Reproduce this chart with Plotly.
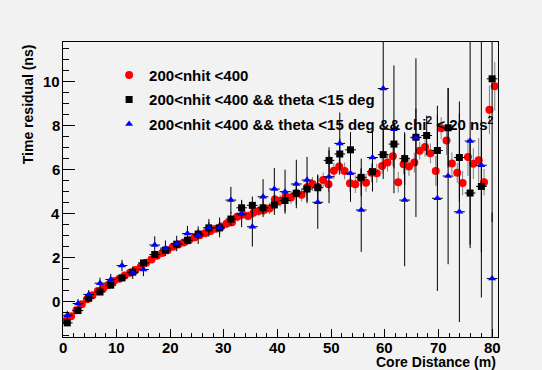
import plotly.graph_objects as go

# ---------------- data ----------------
red_x = [0.5, 1.5, 2.5, 3.5, 4.5, 5.5, 6.5, 7.5, 8.5, 9.5,
         10.5, 11.5, 12.5, 13.5, 14.5, 15.5, 16.5, 17.5, 18.5, 19.5,
         20.5, 21.5, 22.5, 23.5, 24.5, 25.5, 26.5, 27.5, 28.5, 29.5,
         30.5, 31.5, 32.5, 33.5, 34.5, 35.5, 36.5, 37.5, 38.5, 39.5,
         40.5, 41.5, 42.5, 43.5, 44.5, 45.5, 46.5, 47.5, 48.5, 49.5,
         50.5, 51.5, 52.5, 53.5, 54.5, 55.5, 56.5, 57.5, 58.5, 59.5,
         60.5, 61.5, 62.5, 63.5, 64.5, 65.5, 66.5, 67.5, 68.5, 69.5,
         70.5, 71.5, 72.5, 73.5, 74.5, 75.5, 76.5, 77.5, 78.5, 79.5,
         80.5]
red_y = [-0.85, -0.65, -0.38, -0.10, 0.12, 0.30, 0.50, 0.62, 0.78, 0.95,
         1.05, 1.20, 1.32, 1.45, 1.60, 1.78, 1.93, 2.10, 2.22, 2.35,
         2.50, 2.60, 2.70, 2.80, 2.92, 3.02, 3.12, 3.22, 3.32, 3.42,
         3.55, 3.62, 3.86, 3.97, 3.90, 4.05, 4.12, 4.17, 4.24, 4.65,
         4.59, 4.77, 4.74, 4.93, 4.86, 5.20, 5.35, 5.22, 5.53, 5.34,
         5.95, 6.14, 5.94, 5.38, 5.34, 5.62, 5.41, 5.86, 5.84, 6.17,
         6.32, 6.61, 5.43, 6.24, 6.14, 6.32, 6.86, 7.03, 6.74, 5.94,
         7.88, 7.32, 6.28, 5.86, 5.39, 6.57, 6.27, 6.43, 5.43, 8.72,
         9.78]
red_err = [0.08, 0.08, 0.08, 0.08, 0.08, 0.08, 0.09, 0.09, 0.09, 0.09,
           0.10, 0.10, 0.10, 0.10, 0.11, 0.11, 0.11, 0.12, 0.12, 0.12,
           0.13, 0.13, 0.14, 0.14, 0.15, 0.15, 0.16, 0.16, 0.17, 0.17,
           0.18, 0.19, 0.20, 0.20, 0.21, 0.22, 0.23, 0.24, 0.25, 0.26,
           0.27, 0.28, 0.29, 0.30, 0.30, 0.31, 0.32, 0.33, 0.34, 0.35,
           0.36, 0.37, 0.38, 0.39, 0.40, 0.40, 0.41, 0.42, 0.43, 0.35,
           0.40, 0.45, 0.47, 0.45, 0.42, 0.45, 0.40, 0.45, 0.45, 0.68,
           0.50, 0.65, 0.50, 0.45, 0.55, 0.85, 0.70, 1.00, 0.60, 1.10,
           1.10]
red_xerr = [0.5] * len(red_x)

sq_x = [0.8, 2.8, 4.8, 6.9, 8.9, 11.0, 13.0, 15.0, 17.1, 19.1,
        21.2, 23.2, 25.2, 27.2, 29.2, 31.3, 33.3, 35.3, 37.3, 39.4,
        41.4, 43.5, 45.5, 47.5, 49.6, 51.6, 53.6, 55.6, 57.7, 59.7,
        61.7, 63.7, 65.8, 67.8, 69.8, 71.8, 73.9, 75.9, 78.0, 80.0]
sq_y = [-0.95, -0.39, 0.17, 0.45, 0.76, 1.09, 1.35, 1.77, 2.15, 2.35,
        2.62, 2.80, 3.08, 3.36, 3.36, 3.76, 4.27, 4.38, 4.27, 4.40,
        4.60, 4.93, 5.12, 5.18, 6.42, 6.71, 6.90, 5.65, 5.91, 6.68,
        7.16, 6.50, 7.47, 7.55, 6.87, 7.90, 6.55, 4.94, 5.24, 10.12]
sq_err = [0.08, 0.08, 0.10, 0.10, 0.10, 0.12, 0.12, 0.14, 0.15, 0.17,
          0.18, 0.20, 0.22, 0.25, 0.28, 0.32, 0.36, 0.40, 0.42, 0.45,
          0.50, 0.52, 0.55, 0.60, 0.60, 0.70, 0.80, 0.85, 0.90, 1.10,
          1.10, 1.20, 1.30, 0.90, 1.60, 1.80, 2.00, 2.50, 3.00, 6.50]
sq_xerr = [1.0] * len(sq_x)

tri_x = [0.8, 2.8, 4.8, 6.9, 8.9, 11.0, 13.0, 15.0, 17.1, 19.1,
         21.2, 23.2, 25.2, 27.2, 29.2, 31.3, 33.3, 35.3, 37.3, 39.4,
         41.4, 43.5, 45.5, 47.5, 49.6, 51.6, 53.6, 55.6, 57.7, 59.7,
         61.7, 63.7, 65.8, 69.8, 71.8, 73.9, 75.9, 78.0, 80.0]
tri_y = [-0.60, -0.07, 0.34, 0.85, 1.02, 1.65, 1.32, 1.47, 2.58, 2.44,
         2.65, 3.10, 3.03, 3.36, 3.38, 4.62, 3.99, 3.41, 4.77, 5.12,
         5.00, 5.35, 5.53, 4.52, 5.68, 7.19, 5.84, 4.17, 6.55, 9.68,
         7.83, 4.62, 7.45, 4.70, 5.71, 4.09, 7.30, 6.20, 1.06]
tri_err = [0.20, 0.20, 0.20, 0.25, 0.25, 0.26, 0.28, 0.30, 0.40, 0.35,
           0.35, 0.35, 0.40, 0.40, 0.45, 0.60, 0.60, 0.90, 0.80, 0.95,
           1.00, 1.10, 1.05, 1.20, 1.20, 1.40, 1.30, 1.90, 1.20, 3.00,
           2.90, 3.00, 3.60, 4.20, 4.00, 5.00, 4.70, 6.00, 3.00]
tri_xerr = [1.0] * len(tri_x)

names = ["200&lt;nhit &lt;400",
         "200&lt;nhit &lt;400 && theta &lt;15 deg",
         "200&lt;nhit &lt;400 && theta &lt;15 deg && chi<sup>2</sup> &lt; 20 ns<sup>2</sup>"]

x_ticks = [0, 10, 20, 30, 40, 50, 60, 70, 80]
y_ticks = [0, 2, 4, 6, 8, 10]

FONT = "Liberation Sans, Arial, Helvetica, sans-serif"
BG = "#f2f2f2"

fig = go.Figure()

fig.add_trace(go.Scatter(
    x=red_x, y=red_y, mode="markers", name=names[0], legendgroup="a",
    marker=dict(symbol="circle", size=8, color="#ff0000", line=dict(width=0)),
    error_y=dict(type="data", array=red_err, color="#808080", thickness=1, width=0),
    error_x=dict(type="data", array=red_xerr, color="#808080", thickness=1, width=0),
))
fig.add_trace(go.Scatter(
    x=sq_x, y=sq_y, mode="markers", name=names[1], legendgroup="b",
    marker=dict(symbol="square", size=7, color="#000000", line=dict(width=0)),
    error_y=dict(type="data", array=sq_err, color="#000000", thickness=1, width=0),
    error_x=dict(type="data", array=sq_xerr, color="#000000", thickness=1, width=0),
))
fig.add_trace(go.Scatter(
    x=tri_x, y=tri_y, mode="markers", name=names[2], legendgroup="c",
    marker=dict(symbol="triangle-up", size=7, color="#0000ff", line=dict(width=0)),
    error_y=dict(type="data", array=tri_err, color="#000000", thickness=1, width=0),
    error_x=dict(type="data", array=tri_xerr, color="#000000", thickness=1, width=0),
))

axis_common = dict(
    showline=True, linecolor="#000000", linewidth=1, mirror=True,
    showgrid=False, zeroline=False, ticks="inside", tickcolor="#000000",
    tickwidth=1, showticklabels=False,
)

tick_font = dict(family=FONT, size=15, color="#000000", weight="bold")
title_font = dict(family=FONT, size=14, color="#000000", weight="bold")

annotations = []
for v in x_ticks:
    annotations.append(dict(text=str(v), xref="x", yref="paper", x=v, y=0,
                            xanchor="center", yanchor="top", yshift=0,
                            showarrow=False, font=tick_font))
for v in y_ticks:
    annotations.append(dict(text=str(v), xref="paper", yref="y", x=0, y=v,
                            xanchor="right", yanchor="middle", xshift=-1,
                            showarrow=False, font=tick_font))
annotations.append(dict(text="Core Distance (m)", xref="paper", yref="paper",
                        x=1.0, y=-0.086, xanchor="right", yanchor="middle",
                        showarrow=False, font=title_font))
annotations.append(dict(text="Time residual (ns)", xref="paper", yref="paper",
                        x=-0.08, y=1.0, xanchor="center", yanchor="top",
                        showarrow=False, textangle=-90, font=title_font))

fig.update_layout(
    width=542, height=370,
    margin=dict(l=63, r=44, t=42, b=33, autoexpand=False),
    paper_bgcolor=BG, plot_bgcolor=BG,
    showlegend=True,
    legend=dict(x=0.106, y=0.943, xanchor="left", yanchor="top",
                bgcolor="rgba(0,0,0,0)", borderwidth=0,
                font=dict(family=FONT, size=15, color="#000000", weight="bold"),
                tracegroupgap=2, itemclick=False),
    xaxis=dict(range=[0, 81.1], tickvals=x_ticks, ticklen=8,
               minor=dict(dtick=2, ticklen=4, ticks="inside", tickcolor="#000000"),
               **axis_common),
    yaxis=dict(range=[-1.59, 11.79], tickvals=y_ticks, ticklen=12,
               minor=dict(dtick=0.5, ticklen=6, ticks="inside", tickcolor="#000000"),
               **axis_common),
    annotations=annotations,
)

fig.write_html(
    "out.html",
    config={"displayModeBar": False},
    post_script="document.body.style.margin='0';document.body.style.background='#f2f2f2';",
)
